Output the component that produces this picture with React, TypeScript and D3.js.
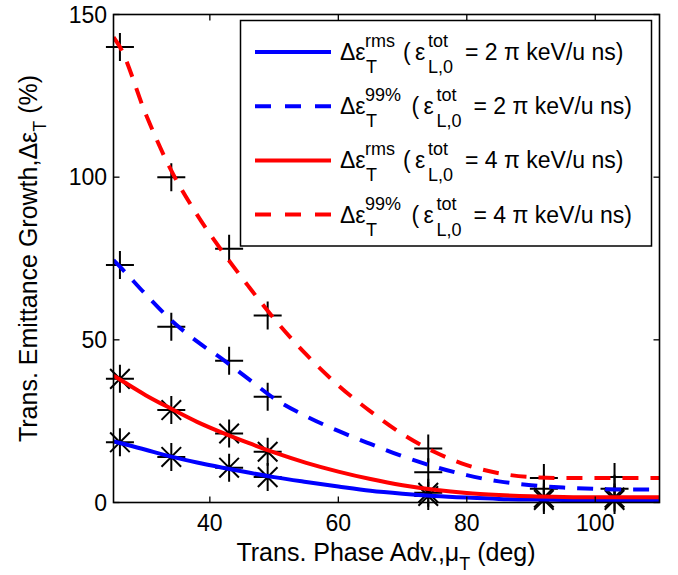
import React from 'react';
import * as d3 from 'd3';

// ---- data ----
const markerX = [26, 34, 43, 49, 74, 92, 103];
const ptsRms2 = [18.5, 14, 10.7, 7.8, 2, 0.8, 0.8];
const pts99_2 = [73, 54, 43.6, 32.5, 9.3, 4.2, 4.2];
const ptsRms4 = [38, 28.4, 21.2, 15.6, 3, 1.5, 1.5];
const pts99_4 = [140, 100, 78, 57.5, 16.6, 7.5, 7.8];

const fitX = [25, 26, 30, 34, 38, 42, 46, 50, 55, 60, 65, 70, 75, 80, 85, 90, 95, 100, 105, 110];
const fitRms2 = [18.8, 18.3, 16.2, 14.1, 12.3, 10.7, 9.2, 7.8, 6.3, 4.9, 3.6, 2.7, 2.0, 1.5, 1.1, 0.9, 0.8, 0.7, 0.7, 0.7];
const fit99_2 = [74.5, 72.5, 64, 56, 49.5, 44, 38, 32, 26.5, 22, 18, 14.2, 11, 8.4, 6.5, 5.3, 4.6, 4.2, 4, 4];
const fitRms4 = [39, 37.8, 33, 28.8, 24.8, 21.4, 18.3, 15.4, 12.2, 9.5, 7.2, 5.3, 3.9, 2.9, 2.3, 1.9, 1.7, 1.6, 1.6, 1.6];
const fit99_4 = [143, 140, 119.5, 102, 88.5, 77, 66.5, 56.5, 45.5, 36, 28, 21, 15.5, 11.5, 9, 7.8, 7.5, 7.5, 7.5, 7.5];

const xTicks = [40, 60, 80, 100];
const yTicks = [0, 50, 100, 150];

const legendSup = ['rms', '99%', 'rms', '99%'];
const legendVal = ['2', '2', '4', '4'];
const legendColor = ['#0000ff', '#0000ff', '#ff0000', '#ff0000'];
const legendDashed = [false, true, false, true];

const FONT = "'Liberation Sans', Arial, Helvetica, sans-serif";

export default function App() {
  const L = 113.5, R = 659.5, T = 14.5, B = 502.5;
  const x = d3.scaleLinear().domain([25, 110]).range([L, R]);
  const y = d3.scaleLinear().domain([0, 150]).range([B, T]);
  const line = d3
    .line<number>()
    .x((_, i) => x(fitX[i]))
    .y((d) => y(d))
    .curve(d3.curveMonotoneX);

  const fits = [
    { data: fitRms2, color: '#0000ff', dashed: false },
    { data: fit99_2, color: '#0000ff', dashed: true },
    { data: fitRms4, color: '#ff0000', dashed: false },
    { data: fit99_4, color: '#ff0000', dashed: true },
  ];

  const r = 14;
  const dg = 9.8;
  const plusPath = (cx: number, cy: number) =>
    `M${cx - r},${cy}H${cx + r}M${cx},${cy - r}V${cy + r}`;
  const starPath = (cx: number, cy: number) =>
    plusPath(cx, cy) +
    `M${cx - dg},${cy - dg}L${cx + dg},${cy + dg}M${cx - dg},${cy + dg}L${cx + dg},${cy - dg}`;

  const markerSets = [
    { data: ptsRms2, star: true },
    { data: pts99_2, star: false },
    { data: ptsRms4, star: true },
    { data: pts99_4, star: false },
  ];

  const tickLen = 6;
  const legX = 240.5, legY = 20.5, legW = 411, legH = 225.5;
  const rowY0 = 52, rowStep = 54.2;
  const tx0 = 340;

  return (
    <svg
      width={678}
      height={575}
      style={{ position: 'absolute', left: 0, top: 0, background: '#fff' }}
      fontFamily={FONT}
    >
      <rect x={0} y={0} width={678} height={575} fill="#fff" />
      <defs>
        <clipPath id="plotclip">
          <rect x={L} y={T} width={R - L} height={B - T} />
        </clipPath>
      </defs>

      {/* markers */}
      <g stroke="#000" strokeWidth={2} fill="none">
        {markerSets.map((ms, k) =>
          ms.data.map((v, i) => (
            <path
              key={`m${k}-${i}`}
              d={ms.star ? starPath(x(markerX[i]), y(v)) : plusPath(x(markerX[i]), y(v))}
            />
          ))
        )}
      </g>

      {/* fit lines */}
      <g clipPath="url(#plotclip)" fill="none">
        {fits.map((f, k) => (
          <path
            key={`f${k}`}
            d={line(f.data) || ''}
            stroke={f.color}
            strokeWidth={4}
            strokeDasharray={f.dashed ? '16 12' : undefined}
          />
        ))}
      </g>

      {/* axes box */}
      <rect x={L} y={T} width={R - L} height={B - T} fill="none" stroke="#000" strokeWidth={1.6} />
      {/* ticks */}
      <g stroke="#000" strokeWidth={1.3}>
        {xTicks.map((t) => (
          <g key={`xt${t}`}>
            <line x1={x(t)} x2={x(t)} y1={B} y2={B - tickLen} />
            <line x1={x(t)} x2={x(t)} y1={T} y2={T + tickLen} />
          </g>
        ))}
        {yTicks.map((t) => (
          <g key={`yt${t}`}>
            <line x1={L} x2={L + tickLen} y1={y(t)} y2={y(t)} />
            <line x1={R} x2={R - tickLen} y1={y(t)} y2={y(t)} />
          </g>
        ))}
      </g>
      <g fontSize={23} fill="#000">
        {xTicks.map((t) => (
          <text key={`xl${t}`} x={x(t)} y={531} textAnchor="middle">
            {t}
          </text>
        ))}
        {yTicks.map((t) => (
          <text key={`yl${t}`} x={107} y={y(t) + 8} textAnchor="end">
            {t}
          </text>
        ))}
      </g>

      {/* axis labels */}
      <text x={386} y={561} textAnchor="middle" fontSize={25} fill="#000">
        Trans. Phase Adv.,μ
        <tspan fontSize={18} dy={9}>T</tspan>
        <tspan dy={-9}> (deg)</tspan>
      </text>
      <text
        transform={`translate(37,${(T + B) / 2}) rotate(-90)`}
        textAnchor="middle"
        fontSize={25}
        fill="#000"
      >
        Trans. Emittance Growth,Δε
        <tspan fontSize={18} dy={9}>T</tspan>
        <tspan dy={-9}> (%)</tspan>
      </text>

      {/* legend */}
      <rect x={legX} y={legY} width={legW} height={legH} fill="#fff" stroke="#000" strokeWidth={1.5} />
      {legendSup.map((sup, i) => {
        const ly = rowY0 + i * rowStep;
        const shift = sup === '99%' ? 8.5 : 0;
        return (
          <g key={`lg${i}`} fill="#000">
            <line
              x1={255}
              x2={331}
              y1={ly}
              y2={ly}
              stroke={legendColor[i]}
              strokeWidth={4}
              strokeDasharray={legendDashed[i] ? '16 14' : undefined}
            />
            <text x={tx0} y={ly + 8} fontSize={23}>Δε</text>
            <text x={tx0 + 25} y={ly - 5} fontSize={18}>{sup}</text>
            <text x={tx0 + 26} y={ly + 21} fontSize={18}>T</text>
            <text x={tx0 + 63 + shift} y={ly + 8} fontSize={23}>(</text>
            <text x={tx0 + 75 + shift} y={ly + 8} fontSize={23}>ε</text>
            <text x={tx0 + 88 + shift} y={ly - 5} fontSize={18}>tot</text>
            <text x={tx0 + 88 + shift} y={ly + 21} fontSize={18}>L,0</text>
            <text x={tx0 + 125 + shift} y={ly + 8} fontSize={23}>
              {`= ${legendVal[i]} π keV/u ns)`}
            </text>
          </g>
        );
      })}
    </svg>
  );
}
